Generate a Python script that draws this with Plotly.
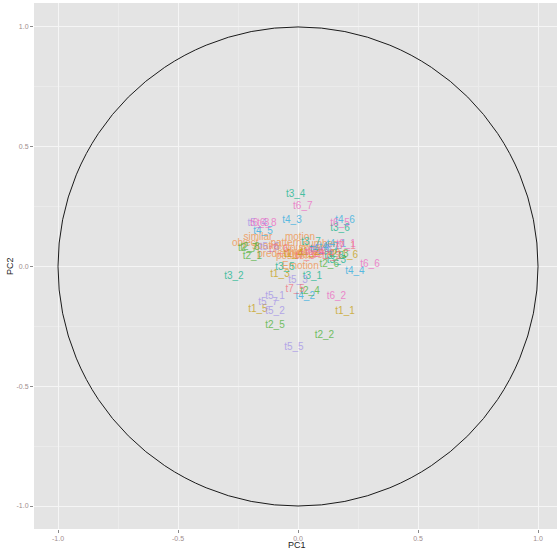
import plotly.graph_objects as go

# ---- data ----
labels_t1 = ["t1_1", "t1_3", "t1_5", "t1_6", "t1_2", "t1_4"]
x_t1 = [0.196, -0.075, -0.167, 0.21, 0.05, -0.02]
y_t1 = [-0.19, -0.033, -0.18, 0.045, 0.06, 0.05]

labels_t2 = ["t2_1", "t2_2", "t2_4", "t2_5", "t2_6", "t2_8", "t2_3", "t2_7"]
x_t2 = [-0.19, 0.11, 0.05, -0.096, 0.13, -0.20, 0.17, -0.21]
y_t2 = [0.04, -0.29, -0.104, -0.245, 0.008, 0.08, 0.05, 0.075]

labels_t3 = ["t3_1", "t3_2", "t3_4", "t3_5", "t3_6", "t3_7", "t3_8", "t3_3"]
x_t3 = [0.06, -0.267, -0.01, -0.054, 0.175, 0.054, 0.15, 0.16]
y_t3 = [-0.04, -0.04, 0.30, -0.004, 0.16, 0.10, 0.04, 0.025]

labels_t4 = ["t4_1", "t4_2", "t4_3", "t4_4", "t4_5", "t4_6", "t4_7", "t4_8"]
x_t4 = [0.16, 0.03, -0.025, 0.237, -0.146, 0.196, 0.13, 0.09]
y_t4 = [0.09, -0.125, 0.19, -0.02, 0.146, 0.19, 0.08, 0.07]

labels_t5 = ["t5_1", "t5_2", "t5_3", "t5_5", "t5_7", "t5_4", "t5_6", "t5_8"]
x_t5 = [-0.096, -0.096, 0.0, -0.017, -0.125, -0.17, -0.12, 0.10]
y_t5 = [-0.125, -0.19, -0.06, -0.34, -0.15, 0.18, 0.08, 0.07]

labels_t6 = ["t6_2", "t6_6", "t6_7", "t6_8", "t6_3", "t6_5", "t6_1", "t6_4"]
x_t6 = [0.16, 0.30, 0.02, -0.13, -0.16, 0.175, 0.20, 0.07]
y_t6 = [-0.125, 0.008, 0.25, 0.18, 0.18, 0.18, 0.09, 0.06]

labels_t7 = ["t7_5", "t7_1", "t7_3", "t7_4", "t7_6", "t7_2"]
x_t7 = [-0.012, 0.20, 0.03, 0.11, -0.08, 0.14]
y_t7 = [-0.096, 0.085, 0.04, 0.05, 0.07, 0.04]

labels_w = ["similar", "motion", "object", "pattern", "direction", "spatial",
            "number", "colour", "texture", "Emotion", "prediction", "shape",
            "position", "speed"]
x_w = [-0.167, 0.008, -0.22, -0.05, 0.03, -0.13, 0.09, -0.03, 0.04, 0.01,
       -0.08, 0.12, -0.02, 0.06]
y_w = [0.12, 0.12, 0.096, 0.095, 0.06, 0.085, 0.09, 0.075, 0.045, 0.0,
       0.05, 0.06, 0.04, 0.075]

groups = [
    (labels_w, x_w, y_w, "#F28A3A"),
    (labels_t1, x_t1, y_t1, "#C49A00"),
    (labels_t2, x_t2, y_t2, "#3FAE2A"),
    (labels_t3, x_t3, y_t3, "#00B086"),
    (labels_t4, x_t4, y_t4, "#1AA8E0"),
    (labels_t5, x_t5, y_t5, "#9E8CE8"),
    (labels_t6, x_t6, y_t6, "#EE5FC0"),
    (labels_t7, x_t7, y_t7, "#F46A7A"),
]

tick_vals = [-1.0, -0.5, 0.0, 0.5, 1.0]
tick_text = ["-1.0", "-0.5", "0.0", "0.5", "1.0"]

FONT = "Liberation Sans, Arial, sans-serif"

fig = go.Figure()
for labs, xs, ys, col in groups:
    fig.add_trace(go.Scatter(
        x=xs, y=ys, text=labs, mode="text",
        textfont=dict(family=FONT, size=10, color=col),
        opacity=0.7, showlegend=False, hoverinfo="text",
    ))

fig.add_shape(type="circle", xref="x", yref="y", x0=-1, y0=-1, x1=1, y1=1,
              line=dict(color="#1a1a1a", width=1), layer="above")

axis_common = dict(
    showgrid=True, gridcolor="#F5F5F5", gridwidth=1.2,
    minor=dict(showgrid=True, gridcolor="#EBEBEB", gridwidth=0.6, dtick=0.5, tick0=-0.75),
    zeroline=False, ticks="outside", ticklen=3, tickcolor="#8a8a8a",
    tickfont=dict(family=FONT, size=7, color="#a08c8c"),
    tickvals=tick_vals, ticktext=tick_text, showline=False, automargin=False,
)

fig.update_layout(
    width=557, height=550,
    margin=dict(l=34, r=0, t=3, b=21),
    paper_bgcolor="white", plot_bgcolor="#E4E4E4",
    xaxis=dict(range=[-1.1, 1.079], **axis_common),
    yaxis=dict(range=[-1.096, 1.1], **axis_common),
    annotations=[
        dict(text="PC1", xref="paper", yref="paper", x=0.503, y=0, yshift=-16,
             showarrow=False, xanchor="center", yanchor="middle",
             font=dict(family=FONT, size=9, color="#222")),
        dict(text="PC2", xref="paper", yref="paper", x=0, xshift=-24, y=0.5,
             showarrow=False, xanchor="center", yanchor="middle", textangle=-90,
             font=dict(family=FONT, size=9, color="#222")),
    ],
)

fig.write_html("out.html", config={"displayModeBar": False},
               post_script="document.body.style.margin='0px';document.body.style.overflow='hidden';")
